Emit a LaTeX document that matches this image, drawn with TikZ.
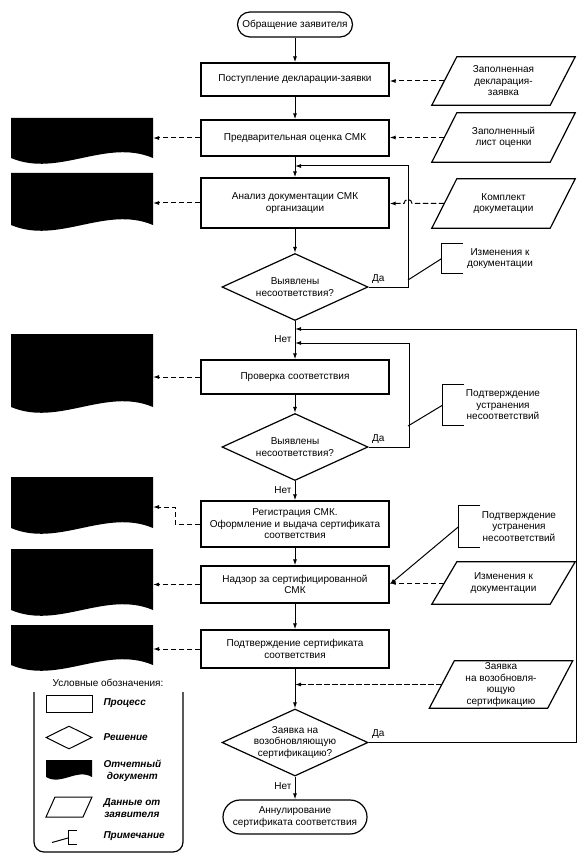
\documentclass[tikz,border=0pt]{standalone}
\usepackage{fontspec}
\setmainfont{Liberation Sans}
\usetikzlibrary{shapes.geometric,arrows.meta}

\tikzset{
  txt/.style={font=\fontsize{10}{11.5}\selectfont},
  legtxt/.style={font=\fontsize{10}{11.5}\selectfont\bfseries\itshape,anchor=west,align=center},
  proc/.style={txt,draw,line width=1.3pt,minimum width=188pt,align=center,inner sep=2pt},
  term/.style={txt,draw,line width=1.2pt,align=center,inner sep=1pt},
  dec/.style={txt,draw,diamond,aspect=2.15,line width=1.2pt,minimum width=146pt,minimum height=67pt,inner sep=-2pt,align=center},
  dat/.style={txt,minimum width=118pt,align=center,inner sep=0pt,
    append after command={\pgfextra{\draw[line width=1.2pt]
      ([xshift=12.5pt]\tikzlastnode.north west) -- ([xshift=12.5pt]\tikzlastnode.north east) --
      ([xshift=-12.5pt]\tikzlastnode.south east) -- ([xshift=-12.5pt]\tikzlastnode.south west) -- cycle;}}},
  note/.style={txt,minimum width=116pt,align=center,inner sep=0pt},
  flow/.style={line width=1pt,-{Latex[length=6pt,width=4pt]}},
  data/.style={flow,dash pattern=on 5.5pt off 2.5pt},
}
\newcommand{\repdoc}[5]{\fill (#1,#3) -- (#2,#3) -- (#2,#4) .. controls ({(2*#2+#1)/3},{#4-#5}) and ({(#2+2*#1)/3},{#4+#5}) .. (#1,#4) -- cycle;}

\begin{document}
\begin{tikzpicture}[x=1pt,y=-1pt]
	\useasboundingbox (0,0) rectangle (582,858);
	% main column
	\node[term,rounded corners=12.5pt,minimum width=115pt,minimum height=25pt] (t0) at (295,24.5) {Обращение заявителя};
	\node[proc,minimum height=33pt] (p1) at (295,79.5) {Поступление декларации-заявки};
	\node[proc,minimum height=36pt] (p2) at (295,138) {Предварительная оценка СМК};
	\node[proc,minimum height=50pt] (p3) at (295,203) {Анализ документации СМК\\организации};
	\node[dec] (q1) at (295,287) {Выявлены\\несоответствия?};
	\node[proc,minimum height=34pt] (p4) at (295,377) {Проверка соответствия};
	\node[dec] (q2) at (295,447) {Выявлены\\несоответствия?};
	\node[proc,minimum height=46pt] (p5) at (295,524) {Регистрация СМК.\\Оформление и выдача сертификата\\соответствия};
	\node[proc,minimum height=37pt] (p6) at (295,584.5) {Надзор за сертифицированной\\СМК};
	\node[proc,minimum height=38pt] (p7) at (295,649) {Подтверждение сертификата\\соответствия};
	\node[dec] (q3) at (295,742.5) {Заявка на\\возобновляющую\\сертификацию?};
	\node[term,rounded corners=17pt,minimum width=144pt,minimum height=34pt] (t1) at (295,817) {Аннулирование\\сертификата соответствия};
	% data from the applicant
	\node[dat,minimum height=48pt] (par1) at (503.5,81) {Заполненная\\декларация-\\заявка};
	\node[dat,minimum height=49pt] (par2) at (503.5,137.5) {Заполненный\\лист оценки};
	\node[dat,minimum height=49pt] (par3) at (503.5,203.5) {Комплект\\докуметации};
	\node[dat,minimum height=42pt] (par4) at (503.5,583) {Изменения к\\документации};
	\node[dat,minimum height=47pt] (par5) at (501,684.5) {Заявка\\на возобновля-\\ющую\\сертификацию};
	% notes
	\node[note,minimum height=29pt] (n1) at (500,258.5) {Изменения к\\документации};
	\node[note,minimum width=120pt,minimum height=40pt] (n2) at (503,405) {Подтверждение\\устранения\\несоответствий};
	\node[note,minimum width=120pt,minimum height=41pt] (n3) at (519,526.5) {Подтверждение\\устранения\\несоответствий};
	\foreach \n in {n1,n2,n3}
		\draw[line width=1pt] ([xshift=21pt]\n.north west) -- (\n.north west) -- (\n.south west) -- ([xshift=21pt]\n.south west);
	% report documents
	\repdoc{11}{153}{118}{158}{20}
	\repdoc{11}{153}{173}{225}{20}
	\repdoc{11}{153}{334}{407}{20}
	\repdoc{11}{153}{477}{528}{20}
	\repdoc{11}{153}{549}{610}{20}
	\repdoc{11}{153}{625}{665}{20}
	\coordinate (d1) at (153,138);
	\coordinate (d2) at (153,203);
	\coordinate (d3) at (153,377);
	\coordinate (d4) at (153,507);
	\coordinate (d5) at (153,584.5);
	\coordinate (d6) at (153,649);
	% loop ends on the main line
	\coordinate (l1) at (295,166);
	\coordinate (l2) at (295,329);
	\coordinate (l3) at (295,343);
	\coordinate (c1) at (408,280);
	\coordinate (c2) at (408,426);
	% main flow
	\draw[flow] (t0) -- (p1);
	\draw[flow] (p1) -- (p2);
	\draw[flow] (p2) -- (p3);
	\draw[flow] (p3) -- (q1);
	\draw[flow] (q1) -- (p4);
	\draw[flow] (p4) -- (q2);
	\draw[flow] (q2) -- (p5);
	\draw[flow] (p5) -- (p6);
	\draw[flow] (p6) -- (p7);
	\draw[flow] (p7) -- (q3);
	\draw[flow] (q3) -- (t1);
	\draw[flow] (q1.east) -- ++(40,0) |- (l1);
	\draw[flow] (q2.east) -- ++(41,0) |- (l3);
	\draw[flow] (q3.east) -- ++(208,0) |- (l2);
	\node[txt,anchor=south west] at (q1.east) {Да};
	\node[txt,anchor=south west] at (q2.east) {Да};
	\node[txt,anchor=south west] at (q3.east) {Да};
	\node[txt,anchor=north east] at ([yshift=-11pt]q1.south) {Нет};
	\node[txt,anchor=north east] at ([yshift=-2pt]q2.south) {Нет};
	\node[txt,anchor=north east] at ([yshift=-2pt]q3.south) {Нет};
	\draw[line width=1pt] (n1.west) -- (c1);
	\draw[line width=1pt] (n2.west) -- (c2);
	\draw[flow] (n3.west) -- (p6.east);
	% dashed data links
	\draw[data] (par1.west) -- (par1.west -| p1.east);
	\draw[data] (par2.west) -- (par2.west -| p2.east);
	\draw[data] (par3.west) -- (412,203.5) arc[start angle=0,end angle=-180,radius=4] -- (par3.west -| p3.east);
	\draw[data] (par4.west) -- (par4.west -| p6.east);
	\draw[data] (par5.west) -- (par5.west -| p7.south);
	\draw[data] (p2.west) -- (d1);
	\draw[data] (p3.west) -- (d2);
	\draw[data] (p4.west) -- (d3);
	\draw[data] (p5.west) -- ++(-25,0) |- (d4);
	\draw[data] (p6.west) -- (d5);
	\draw[data] (p7.west) -- (d6);
	% legend
	\node[txt] (leg) at (108,683) {Условные обозначения:};
	\draw[line width=1.2pt,rounded corners=10pt] (34,692) -- (34,852) -- (183,852) -- (183,692);
	\node[draw,line width=1pt,minimum width=46pt,minimum height=17pt] (lp) at (69,703.5) {};
	\node[draw,diamond,aspect=2,line width=1pt,minimum width=46pt,minimum height=23pt,inner sep=0pt] (ld) at (69,737.5) {};
	\repdoc{46}{92}{760}{777}{9}
	\draw[line width=1pt] (55,797) -- (92,797) -- (83,817) -- (46,817) -- cycle;
	\draw[line width=1pt] (52,842.5) -- (68,838);
	\draw[line width=1pt] (77,830) -- (68,830) -- (68,844) -- (77,844);
	\node[legtxt] at (100,703.5) {Процесс};
	\node[legtxt] at (100,737.5) {Решение};
	\node[legtxt] at (100,771) {Отчетный\\документ};
	\node[legtxt] at (100,808) {Данные от\\заявителя};
	\node[legtxt] at (100,836) {Примечание};
\end{tikzpicture}
\end{document}
